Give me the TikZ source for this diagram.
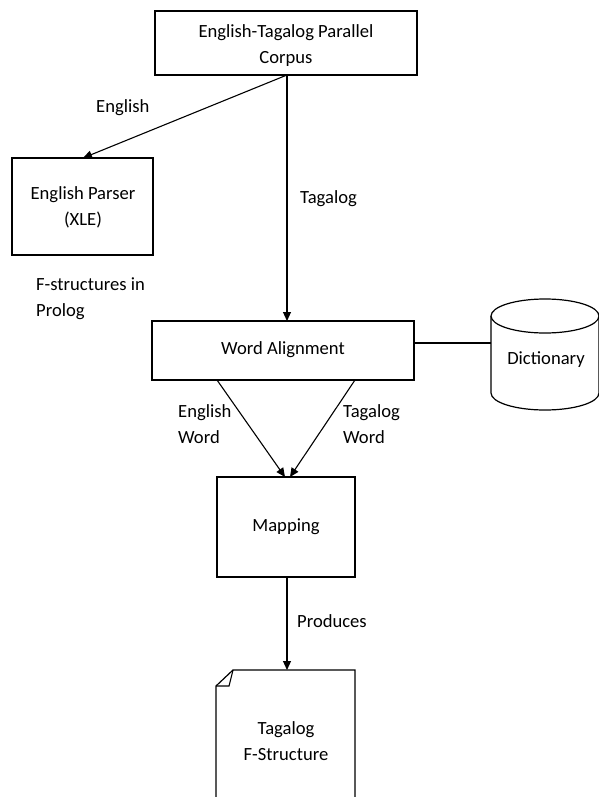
\documentclass[tikz,border=0pt]{standalone}
\usepackage{fontspec}
\setmainfont{Carlito}
\usetikzlibrary{arrows.meta}
\begin{document}
\begin{tikzpicture}[x=1pt,y=-1pt,
  box/.style={draw, line width=1.2pt, fill=white},
  lbl/.style={font=\fontsize{18.6}{26}\selectfont, align=left, anchor=west, inner sep=0pt},
  txt/.style={font=\fontsize{18.6}{26}\selectfont, align=center, inner sep=0pt},
  conn/.style={line width=1.1pt, -{Triangle[length=9pt,width=8pt]}},
  plain/.style={line width=1.1pt}]
\useasboundingbox (0,0) rectangle (599,797);
% boxes
\draw[box] (155,11) rectangle (417,75);
\node[txt] (corpus) at (286,46) {English-Tagalog Parallel\\Corpus};
\coordinate (cb) at (287,75);
\draw[box] (12,158) rectangle (153,255);
\node[txt] (parser) at (83,207) {English Parser\\(XLE)};
\coordinate (pt) at (83,158);
\draw[box] (152,321) rectangle (414,380);
\node[txt] (align) at (283,350) {Word Alignment};
\coordinate (at) at (287,321);
\coordinate (ar) at (414,343);
\coordinate (abl) at (217,380);
\coordinate (abr) at (355,380);
\draw[box] (217,477) rectangle (355,577);
\node[txt] (map) at (286,527) {Mapping};
\coordinate (mtl) at (285,477);
\coordinate (mtr) at (290,477);
\coordinate (mb) at (287,577);
% document with folded corner
\draw[box] (216,797) -- (216,686) -- (233,670) -- (355,670) -- (355,797);
\draw[line width=1.1pt] (233,670) -- (229,686) -- (216,686);
\coordinate (dt) at (287,670);
\node[txt] (doc) at (286,741) {Tagalog\\F-Structure};
% cylinder
\coordinate (cyl) at (491,343);
\draw[box] (491,316) -- (491,393) arc[start angle=180,end angle=360,x radius=54,y radius=-17] -- (599,316);
\draw[box] (545,316) ellipse[x radius=54,y radius=17];
\node[txt] (dict) at (546,360) {Dictionary};
% connectors
\draw[conn] (cb) -- (pt);
\draw[conn] (cb) -- (at);
\draw[plain] (ar) -- (cyl);
\draw[conn] (abl) -- (mtl);
\draw[conn] (abr) -- (mtr);
\draw[conn] (mb) -- (dt);
% labels
\node[lbl] (l1) at (96,108) {English};
\node[lbl] (l2) at (300,199) {Tagalog};
\node[lbl] (l3) at (36,299) {F-structures in\\Prolog};
\node[lbl] (l4) at (178,424) {English\\Word};
\node[lbl] (l5) at (343,424) {Tagalog\\Word};
\node[lbl] (l6) at (297,621) {Produces};
\end{tikzpicture}
\end{document}
